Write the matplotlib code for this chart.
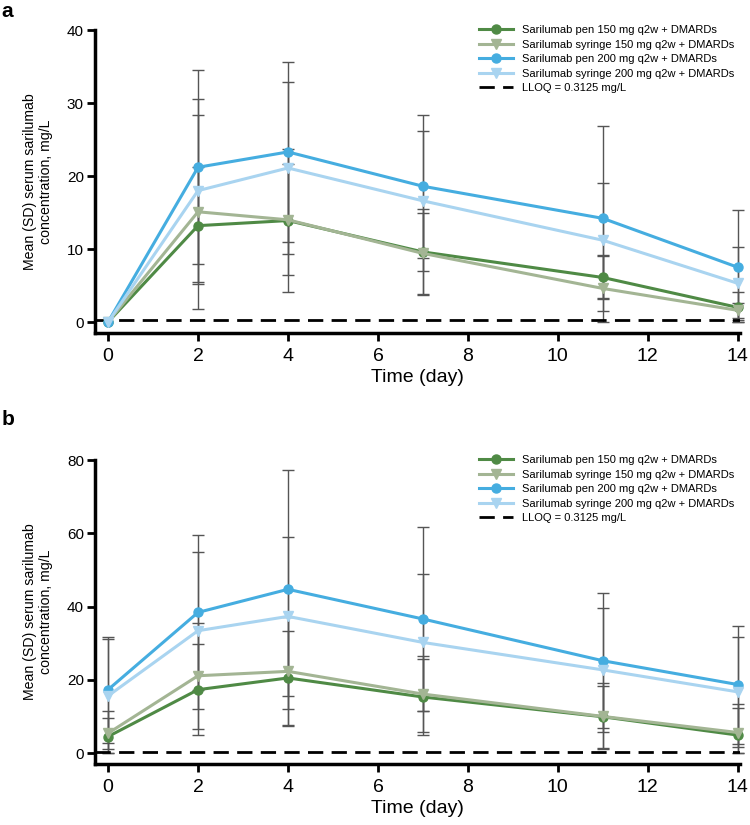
import numpy as np
import matplotlib.pyplot as plt

plt.rcParams['font.family'] = ['Liberation Sans', 'DejaVu Sans']

days = [0, 2, 4, 7, 11, 14]
labels = ["Sarilumab pen 150 mg q2w + DMARDs",
          "Sarilumab syringe 150 mg q2w + DMARDs",
          "Sarilumab pen 200 mg q2w + DMARDs",
          "Sarilumab syringe 200 mg q2w + DMARDs"]
lloq = 0.3125

# panel a
a_pen150 = [0, 13.2, 13.9, 9.6, 6.1, 2.0]
a_syr150 = [0, 15.1, 14.0, 9.4, 4.6, 1.6]
a_pen200 = [0, 21.2, 23.3, 18.6, 14.2, 7.5]
a_syr200 = [0, 18.0, 21.1, 16.6, 11.2, 5.3]
a_sd_pen150 = [0, 8.0, 9.8, 5.9, 3.0, 2.1]
a_sd_syr150 = [0, 13.3, 7.6, 5.6, 4.6, 1.0]
a_sd_pen200 = [0, 13.3, 12.3, 9.8, 12.7, 7.8]
a_sd_syr200 = [0, 12.5, 11.8, 9.6, 7.9, 5.0]

# panel b
b_pen150 = [4.5, 17.3, 20.5, 15.3, 9.9, 4.9]
b_syr150 = [5.4, 21.1, 22.3, 16.1, 10.0, 5.6]
b_pen200 = [17.3, 38.4, 44.7, 36.6, 25.2, 18.7]
b_syr200 = [15.6, 33.4, 37.3, 30.2, 22.7, 16.7]
b_sd_pen150 = [7.1, 12.4, 12.8, 10.5, 8.5, 7.5]
b_sd_syr150 = [4.3, 14.4, 14.9, 10.3, 9.0, 7.9]
b_sd_pen200 = [14.5, 21.2, 32.6, 25.1, 18.4, 16.1]
b_sd_syr200 = [15.6, 21.5, 21.7, 18.8, 17.0, 15.1]

colors = ['#4f8a45', '#a3b594', '#45ade0', '#a9d4f0']
markers = ['o', 'v', 'o', 'v']


def draw(ax, series, sds, ymax, step):
    for m, sd in zip(series, sds):
        m = np.array(m, dtype=float)
        sd = np.array(sd, dtype=float)
        keep = sd > 0
        lo = np.minimum(sd, m)
        ax.errorbar(np.array(days)[keep], m[keep], yerr=[lo[keep], sd[keep]],
                    fmt='none', ecolor='#555555', elinewidth=1, capsize=4.3,
                    capthick=1, zorder=1, clip_on=False)
    for m, c, mk, lab in zip(series, colors, markers, labels):
        ax.plot(days, m, color=c, marker=mk, lw=2.2, ms=6.5, label=lab,
                zorder=3, clip_on=False)
    ax.axhline(lloq, color='black', ls=(0, (5.5, 3)), lw=2, label='LLOQ = 0.3125 mg/L',
               zorder=2)
    ax.set_xlim(-0.29, 14.05)
    ax.set_ylim(-ymax * 0.0375, ymax)
    ax.set_xticks(range(0, 15, 2))
    ax.set_yticks(np.arange(0, ymax + 1, step))
    for s in ['top', 'right']:
        ax.spines[s].set_visible(False)
    for s in ['left', 'bottom']:
        ax.spines[s].set_linewidth(2.5)
    ax.tick_params(axis='both', width=2, length=6, color='black')
    ax.tick_params(axis='x', labelsize=14, pad=5)
    ax.tick_params(axis='y', labelsize=11, pad=2)
    ax.set_xlabel('Time (day)', fontsize=14, labelpad=3)
    ax.set_ylabel('Mean (SD) serum sarilumab\nconcentration, mg/L', fontsize=10.2,
                  labelpad=10)
    ax.legend(loc='upper left', bbox_to_anchor=(0.589, 1.03), frameon=False,
              fontsize=8, handlelength=3.0, labelspacing=0.4, handletextpad=0.8,
              borderaxespad=0)


fig = plt.figure(figsize=(7.5, 8.25), dpi=100)
ax1 = fig.add_axes([0.1267, 0.5964, 0.86, 0.3672])
ax2 = fig.add_axes([0.1267, 0.0739, 0.86, 0.3685])

draw(ax1, [a_pen150, a_syr150, a_pen200, a_syr200],
     [a_sd_pen150, a_sd_syr150, a_sd_pen200, a_sd_syr200], 40, 10)
draw(ax2, [b_pen150, b_syr150, b_pen200, b_syr200],
     [b_sd_pen150, b_sd_syr150, b_sd_pen200, b_sd_syr200], 80, 20)

fig.text(0.002, 0.998, 'a', fontsize=15, fontweight='bold', va='top')
fig.text(0.002, 0.503, 'b', fontsize=15, fontweight='bold', va='top')

fig.savefig('out.png', dpi=100)
